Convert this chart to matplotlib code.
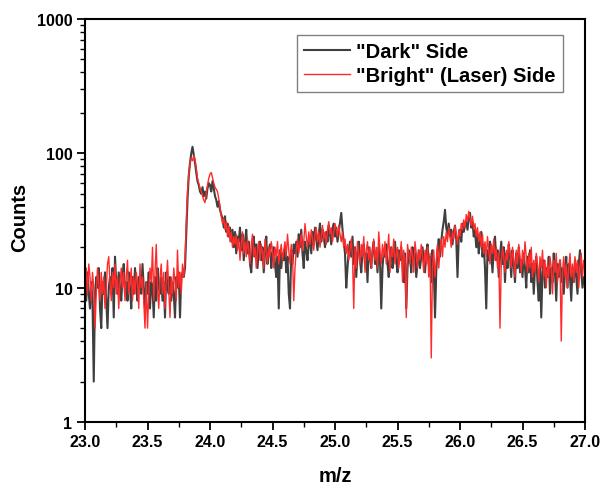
import numpy as np
import matplotlib
matplotlib.use('Agg')
import matplotlib.pyplot as plt
from matplotlib.ticker import LogLocator, NullFormatter, MultipleLocator

plt.rcParams['font.family'] = ['Liberation Sans', 'DejaVu Sans']
plt.rcParams['font.weight'] = 'bold'

# m/z axis: 23.00 .. 27.00 in 0.01 steps
mz = np.round(np.arange(2300, 2701) / 100.0, 2)

# "Dark" side counts (10 values per 0.1 m/z)
dark = [
    12, 8, 13, 9, 7, 11, 8, 2, 9, 12,
    10, 14, 7, 5, 11, 9, 13, 8, 5, 10,
    12, 9, 14, 6, 17, 11, 9, 13, 10, 8,
    12, 15, 9, 11, 8, 13, 10, 7, 12, 9,
    14, 10, 8, 12, 11, 9, 15, 10, 7, 11,
    9, 13, 7, 11, 10, 6, 12, 8, 14, 10,
    9, 12, 8, 11, 6, 13, 10, 9, 12, 8,
    11, 9, 6, 12, 10, 13, 6, 12, 13, 12,
    14, 25, 45, 68, 85, 100, 112, 98, 85, 72,
    62, 58, 52, 50, 56, 48, 52, 46, 55, 60,
    58, 52, 62, 55, 48, 45, 40, 44, 38, 35,
    33, 28, 34, 26, 30, 24, 28, 22, 27, 20,
    26, 18, 24, 22, 28, 19, 25, 16, 22, 27,
    18, 22, 15, 13, 20, 24, 17, 21, 14, 19,
    22, 16, 20, 13, 18, 24, 15, 19, 21, 14,
    18, 20, 15, 12, 17, 7, 19, 14, 18, 16,
    20, 13, 17, 9, 7, 19, 15, 21, 18, 22,
    17, 25, 20, 27, 18, 14, 22, 19, 16, 21,
    24, 18, 26, 21, 28, 23, 19, 25, 30, 22,
    27, 24, 20, 26, 22, 29, 25, 21, 27, 30,
    24, 28, 22, 26, 31, 36, 27, 22, 18, 10,
    14, 19, 22, 17, 24, 15, 20, 12, 18, 22,
    16, 13, 19, 21, 15, 18, 11, 20, 17, 14,
    19, 22, 15, 18, 13, 20, 16, 7, 14, 19,
    17, 21, 15, 12, 18, 20, 14, 17, 22, 16,
    13, 19, 16, 20, 15, 11, 18, 7, 14, 19,
    17, 13, 20, 16, 18, 12, 15, 19, 14, 17,
    20, 16, 13, 18, 21, 15, 17, 11, 19, 14,
    6, 13, 19, 23, 17, 22, 27, 31, 38, 28,
    25, 30, 24, 27, 21, 26, 29, 23, 12, 24,
    27, 22, 30, 26, 29, 31, 27, 33, 36, 28,
    31, 24, 27, 20, 25, 18, 22, 26, 17, 21,
    14, 7, 19, 16, 22, 18, 13, 20, 24, 16,
    19, 12, 17, 22, 15, 20, 11, 18, 14, 21,
    17, 12, 19, 15, 11, 18, 14, 20, 13, 16,
    12, 18, 14, 10, 17, 13, 19, 11, 15, 9,
    14, 17, 11, 8, 15, 6, 13, 16, 10, 14,
    12, 17, 9, 14, 11, 18, 13, 8, 15, 12,
    16, 11, 14, 9, 13, 17, 10, 15, 12, 8,
    14, 11, 16, 12, 9, 15, 19, 13, 10, 12,
    11,
]

# "Bright" (laser) side counts
bright = [
    11, 14, 9, 15, 12, 8, 13, 10, 5, 9,
    14, 11, 8, 13, 9, 12, 7, 10, 15, 17,
    11, 8, 13, 10, 15, 9, 12, 7, 11, 14,
    10, 13, 8, 12, 16, 9, 11, 14, 8, 12,
    9, 13, 11, 7, 15, 10, 12, 8, 5, 11,
    5, 9, 14, 11, 20, 8, 13, 21, 10, 7,
    12, 15, 9, 13, 7, 11, 16, 10, 6, 12,
    9, 14, 11, 8, 19, 10, 13, 9, 15, 12,
    16, 30, 52, 70, 85, 92, 88, 96, 90, 78,
    65, 60, 55, 52, 48, 45, 43, 50, 58, 65,
    70, 72, 66, 60, 56, 54, 52, 46, 40, 34,
    30, 33, 27, 31, 24, 29, 22, 26, 20, 24,
    21, 25, 19, 23, 16, 21, 26, 18, 22, 17,
    23, 19, 15, 21, 25, 17, 20, 14, 19, 22,
    16, 21, 18, 14, 23, 19, 15, 20, 17, 22,
    19, 14, 20, 17, 22, 15, 18, 21, 16, 19,
    22, 17, 25, 19, 15, 21, 17, 8, 14, 19,
    23, 18, 21, 25, 19, 22, 30, 24, 20, 26,
    21, 27, 23, 19, 25, 28, 22, 26, 20, 24,
    29, 23, 26, 21, 27, 31, 25, 28, 22, 26,
    30, 27, 24, 29, 25, 22, 26, 20, 23, 18,
    21, 16, 19, 23, 17, 7, 20, 14, 22, 18,
    15, 21, 17, 24, 13, 19, 22, 16, 20, 14,
    18, 23, 16, 20, 14, 26, 19, 15, 21, 17,
    22, 15, 19, 25, 13, 20, 17, 23, 15, 18,
    20, 14, 17, 22, 11, 19, 16, 6, 21, 18,
    15, 20, 17, 13, 22, 18, 14, 19, 16, 21,
    17, 13, 19, 15, 20, 12, 18, 3, 14, 19,
    12, 16, 21, 14, 19, 23, 17, 24, 20, 26,
    22, 28, 24, 20, 26, 23, 29, 25, 21, 27,
    24, 30, 27, 32, 28, 35, 31, 37, 33, 29,
    34, 27, 30, 24, 28, 22, 26, 20, 25, 18,
    22, 17, 24, 19, 15, 21, 18, 23, 16, 20,
    14, 18, 5, 15, 20, 17, 13, 19, 16, 22,
    18, 14, 20, 16, 12, 19, 15, 21, 17, 13,
    19, 15, 22, 17, 13, 18, 14, 20, 12, 16,
    13, 18, 15, 11, 17, 14, 19, 12, 16, 10,
    15, 12, 17, 14, 9, 16, 13, 18, 11, 14,
    16, 4, 13, 17, 12, 15, 10, 14, 18, 12,
    15, 11, 17, 13, 16, 10, 14, 18, 12, 16,
    14,
]

x_ticks = [23.0, 23.5, 24.0, 24.5, 25.0, 25.5, 26.0, 26.5, 27.0]
y_ticks = [1, 10, 100, 1000]
series_labels = ['"Dark" Side', '"Bright" (Laser) Side']

fig = plt.figure(figsize=(6.02, 4.85), dpi=100)
ax = fig.add_axes([85 / 602, 62 / 485, 500 / 602, 403 / 485])

ax.plot(mz, dark, color='#3f3f3f', lw=1.5, label=series_labels[0])
ax.plot(mz, bright, color='#ff2a2a', lw=1.0, label=series_labels[1])

ax.set_yscale('log')
ax.set_xlim(23.0, 27.0)
ax.set_ylim(1, 1000)

ax.set_xticks(x_ticks)
ax.set_xticklabels([f'{t:.1f}' for t in x_ticks])
ax.xaxis.set_minor_locator(MultipleLocator(0.25))
ax.set_yticks(y_ticks)
ax.set_yticklabels([str(t) for t in y_ticks])
ax.yaxis.set_minor_locator(LogLocator(base=10, subs=np.arange(2, 10)))
ax.yaxis.set_minor_formatter(NullFormatter())

ax.tick_params(which='major', direction='out', length=6, width=1.3, labelsize=11.5, pad=3)
ax.tick_params(which='minor', direction='out', length=3.5, width=1.0)
ax.tick_params(top=False, right=False, which='both')
for s in ax.spines.values():
    s.set_linewidth(1.5)

ax.set_xlabel('m/z', fontsize=14.5, fontweight='bold', labelpad=12)
ax.set_ylabel('Counts', fontsize=14.5, fontweight='bold')
ax.yaxis.set_label_coords(-0.112, 0.51)

leg = ax.legend(loc='upper right', bbox_to_anchor=(0.956, 0.96), borderaxespad=0,
                fancybox=False, framealpha=1, edgecolor='#808080',
                prop={'size': 14.5, 'weight': 'bold'}, handlelength=2.3,
                handletextpad=0.3, borderpad=0.35, labelspacing=0.25)
leg.get_frame().set_linewidth(1.0)

fig.savefig('out.png', dpi=100)
